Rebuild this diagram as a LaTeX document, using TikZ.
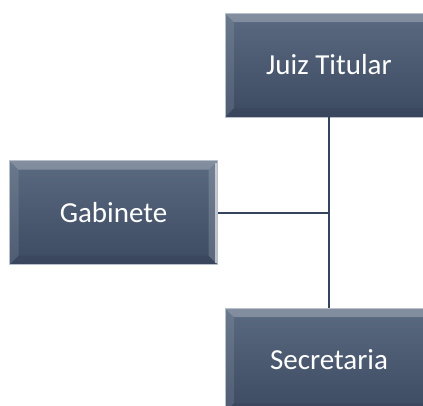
\documentclass[tikz,border=0pt]{standalone}
\usepackage{fontspec}
\setmainfont{Carlito}
\definecolor{boxtop}{HTML}{5A6A80}
\definecolor{boxbot}{HTML}{3C4A62}
\definecolor{linkcol}{HTML}{34445C}
\definecolor{boxedge}{HTML}{B8C0CC}
\tikzset{
  orgbox/.style={
    minimum width=208pt, minimum height=104pt, inner sep=0pt,
    draw=boxedge, line width=0.6pt,
    top color=boxtop, bottom color=boxbot,
    text=white, font=\fontsize{29}{33}\selectfont,
    path picture={
      \fill[white,opacity=0.25] (path picture bounding box.north west) -- (path picture bounding box.north east)
        -- ([xshift=-9pt,yshift=-9pt]path picture bounding box.north east) -- ([xshift=9pt,yshift=-9pt]path picture bounding box.north west) -- cycle;
      \fill[white,opacity=0.10] (path picture bounding box.north west) -- ([xshift=9pt,yshift=-9pt]path picture bounding box.north west)
        -- ([xshift=9pt,yshift=9pt]path picture bounding box.south west) -- (path picture bounding box.south west) -- cycle;
      \fill[white,opacity=0.16] (path picture bounding box.north east) -- ([xshift=-9pt,yshift=-9pt]path picture bounding box.north east)
        -- ([xshift=-9pt,yshift=9pt]path picture bounding box.south east) -- (path picture bounding box.south east) -- cycle;
      \fill[black,opacity=0.06] (path picture bounding box.south west) -- ([xshift=9pt,yshift=9pt]path picture bounding box.south west)
        -- ([xshift=-9pt,yshift=9pt]path picture bounding box.south east) -- (path picture bounding box.south east) -- cycle;
      \draw[white,opacity=0.6,line width=1.2pt] ([xshift=-1.5pt,yshift=-2pt]path picture bounding box.north east) -- ([xshift=-1.5pt,yshift=2pt]path picture bounding box.south east);
    }
  },
  link/.style={draw=linkcol, line width=2pt}
}
\begin{document}
\begin{tikzpicture}[x=1pt,y=-1pt]
\useasboundingbox (0,0) rectangle (423,405);
\clip (0,0) rectangle (423,405);
\fill[white] (0,0) rectangle (423,405);
\node[orgbox] (juiz) at (329,65) {Juiz Titular};
\node[orgbox] (gab) at (113.5,212.5) {Gabinete};
\node[orgbox] (sec) at (329,360) {Secretaria};
\draw[link] (juiz.south) -- (sec.north);
\draw[link] (gab.east) -- (juiz.south |- gab.east);
\end{tikzpicture}
\end{document}
